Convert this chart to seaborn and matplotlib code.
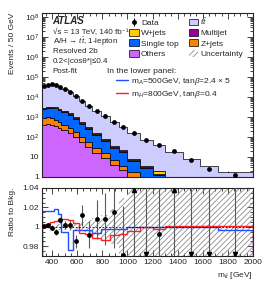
import numpy as np
import pandas as pd
import matplotlib
matplotlib.use("Agg")
import matplotlib.pyplot as plt
import seaborn as sns
from matplotlib.lines import Line2D
from matplotlib.patches import Patch
from matplotlib.ticker import MultipleLocator, FuncFormatter, LogLocator, NullFormatter

# =========================
# data
# =========================
edges = [320, 355, 385, 415, 445, 475, 525, 565, 615, 665, 720, 790, 860, 930,
         1000, 1100, 1200, 1300, 1440, 1580, 1720, 2000]

ttbar = [32600, 36500, 38500, 35200, 28800, 21900, 15100, 9960, 5710, 3280, 1830,
         1040, 520, 282, 142, 68, 38, 17.5, 7.8, 3.2, 1.7]
wjets = [250, 280, 280, 270, 240, 190, 140, 90, 55, 32, 17, 9, 4.5, 2.5, 1.2,
         0.6, 0.6, 0.1, 0.05, 0.02, 0.01]
multijet = [120, 130, 130, 120, 110, 90, 65, 42, 25, 15, 8, 4, 2, 1.5, 0.6,
            0.3, 0.1, 0.05, 0.02, 0.01, 0.005]
single_top = [1620, 1880, 1970, 1920, 1710, 1380, 980, 616, 347, 195, 98, 48, 21,
              14.3, 4.5, 2.0, 0.86, 0.3, 0.19, 0.08, 0.03]
zjets = [493, 516, 453, 353, 243, 184, 131, 83, 44, 24, 12, 6.2, 3.1, 1.3, 1.0,
         0.3, 0.2, 0.1, 0.03, 0.01, 0.003]
others = [398, 417, 398, 355, 282, 214, 151, 95, 56, 32, 16, 8.9, 4.0, 2.2, 0.8,
          0.5, 0.2, 0.1, 0.03, 0.01, 0.003]
data_evt = [35500, 39800, 41700, 38000, 31600, 24000, 16600, 10700, 6310, 3550,
            2000, 1120, 562, 295, 158, 67.6, 39.8, 19.5, 6.8, 2.4, 1.23]

# lower panel
ratio_data = [1.001, 1.002, 0.999, 0.995, 1.007, 1.002, 1.002, 0.985, 1.012, 0.992,
              1.008, 1.008, 1.015, 0.971, 1.05, 0.93, 0.993, 1.09, 0.87, 0.85, 0.8]
ratio_err = [0.002, 0.002, 0.002, 0.003, 0.003, 0.004, 0.005, 0.007, 0.011, 0.014,
             0.02, 0.027, 0.037, 0.05, 0.08, 0.12, 0.16, 0.23, 0.37, 0.6, 0.9]
bkg_unc = [0.002, 0.002, 0.002, 0.002, 0.003, 0.003, 0.003, 0.004, 0.005, 0.007,
           0.009, 0.012, 0.018, 0.03, 0.05, 0.07, 0.09, 0.12, 0.15, 0.2, 0.3]
sig_A500 = [1.016, 1.016, 1.016, 1.018, 1.013, 0.995, 0.976, 0.997, 0.997, 0.997,
            0.994, 0.998, 0.998, 0.998, 1.0, 1.0, 1.0, 1.0, 1.0, 1.0, 0.997]
sig_H800 = [1.0, 1.003, 1.005, 1.006, 1.008, 1.008, 1.007, 1.0045, 0.994, 0.9925,
            0.989, 0.987, 0.9915, 0.9925, 0.996, 0.9995, 0.998, 1.0008, 1.0008,
            1.0008, 1.0008]

procs = ["ttbar", "W+jets", "Multijet", "Single top", "Z+jets", "Others"]
colors = {"ttbar": "#ccccff", "W+jets": "#ffcc00", "Multijet": "#990099",
          "Single top": "#0066ff", "Z+jets": "#ff7f00", "Others": "#cc66ff"}

centers = [(a + b) / 2 for a, b in zip(edges[:-1], edges[1:])]
df = pd.concat([
    pd.DataFrame({"m": centers, "w": vals, "proc": name})
    for name, vals in zip(procs, [ttbar, wjets, multijet, single_top, zjets, others])
])

# =========================
# style
# =========================
sns.set_style("ticks")
plt.rcParams["font.family"] = ["Liberation Sans", "DejaVu Sans"]
plt.rcParams["mathtext.fontset"] = "custom"
plt.rcParams["mathtext.rm"] = "Liberation Sans"
plt.rcParams["mathtext.it"] = "Liberation Sans:italic"
plt.rcParams["mathtext.bf"] = "Liberation Sans:bold"
plt.rcParams["hatch.color"] = "0.55"
plt.rcParams["hatch.linewidth"] = 0.6

FS = 6

fig = plt.figure(figsize=(2.66, 2.91), dpi=100)
ax1 = fig.add_axes([0.158, 0.392, 0.793, 0.563])
ax2 = fig.add_axes([0.158, 0.120, 0.793, 0.234])

# =========================
# top panel
# =========================
sns.histplot(data=df, x="m", weights="w", hue="proc", hue_order=procs,
             multiple="stack", bins=edges, element="step", palette=colors,
             edgecolor="black", linewidth=0.5, alpha=1, legend=False, ax=ax1)
ax1.set_yscale("log")
sns.scatterplot(x=centers, y=data_evt, color="black", s=12, linewidth=0,
                zorder=5, ax=ax1)

ax1.set_xlim(320, 2000)
ax1.set_ylim(1, 1.5e8)
ax1.set_xlabel("")
ax1.set_ylabel("Events / 50 GeV", loc="top", fontsize=FS)
ax1.yaxis.set_label_coords(-0.125, 1.0)
ax1.xaxis.set_major_locator(MultipleLocator(200))
ax1.xaxis.set_minor_locator(MultipleLocator(50))
ax1.xaxis.set_major_formatter(NullFormatter())
ax1.yaxis.set_major_locator(LogLocator(base=10, numticks=12))
ax1.yaxis.set_minor_locator(LogLocator(base=10, subs=np.arange(2, 10), numticks=12))
ax1.yaxis.set_minor_formatter(NullFormatter())


def log_label(v, pos):
    n = int(round(np.log10(v)))
    if n == 0:
        return "1"
    if n == 1:
        return "10"
    return "$10^{%d}$" % n


ax1.yaxis.set_major_formatter(FuncFormatter(log_label))

# text block
ax1.text(0.05, 0.95, "ATLAS", transform=ax1.transAxes, fontsize=7,
         fontweight="bold", fontstyle="italic", va="center")
info = ["\u221as = 13 TeV, 140 fb\u207b\u00b9",
        "A/H \u2192 $t\\bar{t}$, 1-lepton",
        "Resolved 2b",
        "0.2<|cos\u03b8*|\u22640.4",
        "Post-fit"]
for i, line in enumerate(info):
    ax1.text(0.05, 0.885 - i * 0.061, line, transform=ax1.transAxes,
             fontsize=5.8, va="center")

eb = ax1.errorbar([], [], yerr=[], fmt="o", color="black", ms=2.5,
                  elinewidth=0.7)
handles = [
    eb,
    Patch(facecolor=colors["W+jets"], edgecolor="black", lw=0.5),
    Patch(facecolor=colors["Single top"], edgecolor="black", lw=0.5),
    Patch(facecolor=colors["Others"], edgecolor="black", lw=0.5),
    Patch(facecolor=colors["ttbar"], edgecolor="black", lw=0.5),
    Patch(facecolor=colors["Multijet"], edgecolor="black", lw=0.5),
    Patch(facecolor=colors["Z+jets"], edgecolor="black", lw=0.5),
    Patch(facecolor="none", edgecolor="0.55", hatch="//////", lw=0),
]
labels = ["Data", "W+jets", "Single top", "Others",
          "$t\\bar{t}$", "Multijet", "Z+jets", "Uncertainty"]
leg = ax1.legend(handles, labels, ncol=2, loc="upper left",
                 bbox_to_anchor=(0.41, 0.985), frameon=False, fontsize=FS,
                 handlelength=1.1, handleheight=0.9, handletextpad=0.3,
                 labelspacing=0.25, columnspacing=1.2, borderpad=0.1,
                 borderaxespad=0)
ax1.add_artist(leg)

ax1.text(0.31, 0.645, "In the lower panel:", transform=ax1.transAxes,
         fontsize=FS, va="center")
sig_handles = [Line2D([], [], color="#1f4fff", lw=1.0),
               Line2D([], [], color="#ff2020", lw=1.0)]
sig_labels = ["m$_A$=500GeV, tan$\\beta$=2.4 \u00d7 5",
              "m$_H$=800GeV, tan$\\beta$=0.4"]
ax1.legend(sig_handles, sig_labels, loc="upper left",
           bbox_to_anchor=(0.345, 0.62), frameon=False, fontsize=FS,
           handlelength=1.5, handletextpad=0.3, labelspacing=0.2,
           borderpad=0.1, borderaxespad=0)

# =========================
# lower panel
# =========================
ax2.stairs([1 + u for u in bkg_unc], edges, baseline=[1 - u for u in bkg_unc],
           fill=True, facecolor="none", edgecolor="0.55", hatch="//////",
           linewidth=0)
ax2.axhline(1, color="black", ls=(0, (2, 2)), lw=0.6)
ax2.stairs(sig_A500, edges, color="#1f4fff", lw=1.0)
ax2.stairs(sig_H800, edges, color="#ff2020", lw=1.0)

lo, hi = 0.97, 1.04
ax2.errorbar(centers, ratio_data, yerr=ratio_err, fmt="none", ecolor="0.35",
             elinewidth=0.8, zorder=4)
inside = [(c, r) for c, r in zip(centers, ratio_data) if lo <= r <= hi]
above = [c for c, r in zip(centers, ratio_data) if r > hi]
below = [c for c, r in zip(centers, ratio_data) if r < lo]
sns.scatterplot(x=[p[0] for p in inside], y=[p[1] for p in inside],
                color="black", s=12, linewidth=0, zorder=5, ax=ax2)
ax2.plot(above, [hi - 0.0025] * len(above), ls="none", marker="^",
         color="black", ms=3, zorder=5)
ax2.plot(below, [lo + 0.0025] * len(below), ls="none", marker="v",
         color="black", ms=3, zorder=5)

ax2.set_xlim(320, 2000)
ax2.set_ylim(lo, hi)
ax2.xaxis.set_major_locator(MultipleLocator(200))
ax2.xaxis.set_minor_locator(MultipleLocator(50))
ax2.yaxis.set_major_locator(MultipleLocator(0.02))
ax2.yaxis.set_minor_locator(MultipleLocator(0.005))
ax2.yaxis.set_major_formatter(FuncFormatter(lambda v, p: f"{v:g}"))
ax2.set_ylabel("Ratio to Bkg.", loc="top", fontsize=FS)
ax2.yaxis.set_label_coords(-0.125, 1.0)
ax2.set_xlabel("m$_{t\\bar{t}}$ [GeV]", loc="right", fontsize=FS)
ax2.xaxis.set_label_coords(1.0, -0.2)

for ax in (ax1, ax2):
    ax.tick_params(which="both", direction="in", top=True, right=True,
                   labelsize=FS, width=0.6, pad=2)
    ax.tick_params(which="major", length=4)
    ax.tick_params(which="minor", length=2)
    for s in ax.spines.values():
        s.set_linewidth(0.8)

fig.savefig("out.png", dpi=100)
